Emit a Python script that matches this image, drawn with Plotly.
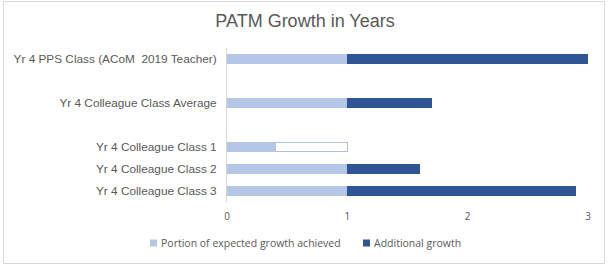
import plotly.graph_objects as go

categories = [
    "Yr 4 PPS Class (ACoM  2019 Teacher)",
    " ",
    "Yr 4 Colleague Class Average",
    "  ",
    "Yr 4 Colleague Class 1",
    "Yr 4 Colleague Class 2",
    "Yr 4 Colleague Class 3",
]
expected = [1.0, None, 1.0, None, 0.4, 1.0, 1.0]
additional = [2.0, None, 0.7, None, None, 0.6, 1.9]
shortfall = [None, None, None, None, 0.6, None, None]
series_names = ["Portion of expected growth achieved", "Additional growth"]
series_colors = ["#B4C7E7", "#2F5597"]

W, H = 609, 267
L, R, T, B = 227, 21, 48, 65
pw, ph = W - L - R, H - T - B

fig = go.Figure()
fig.add_trace(go.Bar(y=categories, x=expected, orientation="h",
                     name=series_names[0], showlegend=False,
                     marker=dict(color=series_colors[0], line=dict(width=0))))
fig.add_trace(go.Bar(y=categories, x=additional, orientation="h",
                     name=series_names[1], showlegend=False,
                     marker=dict(color=series_colors[1], line=dict(width=0))))
fig.add_trace(go.Bar(y=categories, x=shortfall, orientation="h",
                     name="Shortfall", showlegend=False,
                     marker=dict(color="#FFFFFF", line=dict(width=1, color="#B4C0D6"))))

def px(x):
    return (x - L) / pw

def py(y):
    return (H - B - y) / ph

# custom legend (compact symbol spacing, as in the reference)
legend_items = [(150, series_names[0], series_colors[0]), (363, series_names[1], series_colors[1])]
shapes = [dict(type="rect", xref="paper", yref="paper",
               x0=px(3.5), x1=px(604.5), y0=py(263.5), y1=py(1.5),
               line=dict(color="#D9D9D9", width=1), layer="below")]
annotations = []
for x0, name, col in legend_items:
    shapes.append(dict(type="rect", xref="paper", yref="paper",
                       x0=px(x0), x1=px(x0 + 7), y0=py(246.5), y1=py(239.5),
                       fillcolor=col, line=dict(width=0)))
    annotations.append(dict(text=name, xref="paper", yref="paper", x=px(x0 + 9), y=py(243),
                            xanchor="left", yanchor="middle", showarrow=False,
                            font=dict(family="Open Sans", size=10.5, color="#595959")))

fig.update_layout(
    width=W, height=H,
    margin=dict(l=L, r=R, t=T, b=B),
    barmode="stack",
    bargap=0.55,
    plot_bgcolor="white",
    paper_bgcolor="white",
    showlegend=False,
    title=dict(text="PATM Growth in Years", x=(305) / W, xanchor="center",
               y=1 - 21 / H, yanchor="middle", yref="container",
               font=dict(family="Liberation Sans, Arial", size=18, color="#595959")),
    font=dict(family="Liberation Sans, Arial", color="#595959"),
    xaxis=dict(range=[0, 3], tickvals=[0, 1, 2, 3], showgrid=False, zeroline=False,
               showline=False, ticklabelstandoff=7, automargin=False,
               tickfont=dict(family="Open Sans", size=10, color="#595959")),
    yaxis=dict(categoryorder="array", categoryarray=categories, autorange="reversed",
               showline=True, linecolor="#D9D9D9", linewidth=1, showgrid=False,
               tickfont=dict(family="Liberation Sans, Arial", size=11.8, color="#595959"),
               ticks="", ticklabelstandoff=7, automargin=False),
    shapes=shapes,
    annotations=annotations,
)

fig.write_html("out.html")
